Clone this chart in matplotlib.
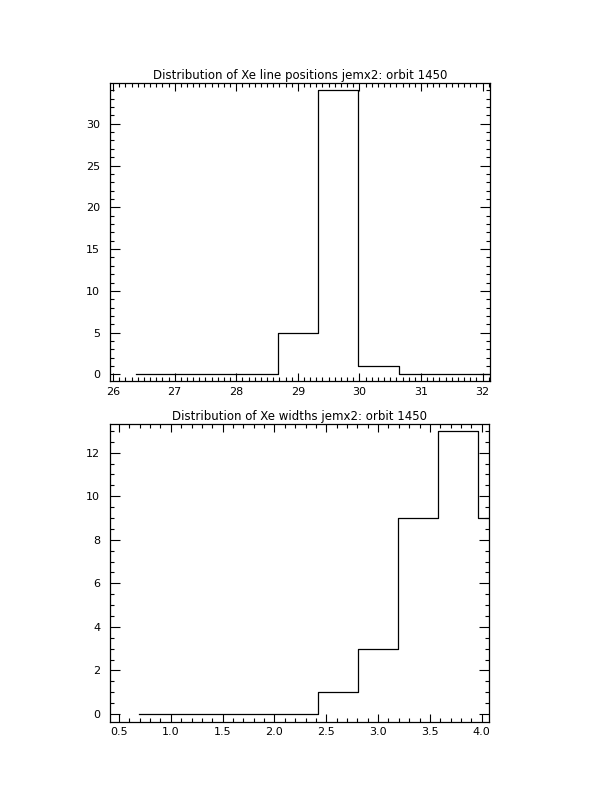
import matplotlib
matplotlib.use("Agg")
import matplotlib.pyplot as plt
from matplotlib.ticker import MultipleLocator, FormatStrFormatter

# Top histogram: Xe line positions
pos_centers = [26.38, 27.035, 27.69, 28.345, 29.0, 29.655, 30.31, 30.965, 31.62, 32.275]
pos_counts = [0, 0, 0, 0, 5, 34, 1, 0, 0, 0]
pos_title = "Distribution of Xe line positions jemx2: orbit 1450"

# Bottom histogram: Xe widths
wid_centers = [0.69, 1.075, 1.46, 1.845, 2.23, 2.615, 3.0, 3.385, 3.77, 4.155]
wid_counts = [0, 0, 0, 0, 0, 1, 3, 9, 13, 9]
wid_title = "Distribution of Xe widths jemx2: orbit 1450"

plt.rcParams['font.family'] = ['DejaVu Sans']
fig = plt.figure(figsize=(6.12, 7.92), dpi=100)

def style(ax, xmaj, xmin, ymaj, ymin, xfmt, yfmt):
    ax.xaxis.set_major_locator(MultipleLocator(xmaj))
    ax.xaxis.set_minor_locator(MultipleLocator(xmin))
    ax.yaxis.set_major_locator(MultipleLocator(ymaj))
    ax.yaxis.set_minor_locator(MultipleLocator(ymin))
    ax.xaxis.set_major_formatter(FormatStrFormatter(xfmt))
    ax.yaxis.set_major_formatter(FormatStrFormatter(yfmt))
    ax.tick_params(which='both', direction='in', top=True, right=True,
                   width=0.8, labelsize=8, colors='black')
    ax.tick_params(which='major', length=6, pad=4)
    ax.tick_params(axis='y', which='major', length=7, pad=7)
    ax.tick_params(which='minor', length=3)
    for s in ax.spines.values():
        s.set_linewidth(0.9)

ax1 = fig.add_axes([110/612, 1-381/792, 380/612, (381-83.3)/792])
ax1.step(pos_centers, pos_counts, where='mid', color='black', lw=0.9)
ax1.set_xlim(25.95, 32.12)
ax1.set_ylim(-0.78, 34.84)
style(ax1, 1, 0.1, 5, 1, '%d', '%d')
ax1.set_title(pos_title, fontsize=8.5, pad=3)

ax2 = fig.add_axes([110/612, 1-721.7/792, 379/612, (721.7-424.3)/792])
ax2.step(wid_centers, wid_counts, where='mid', color='black', lw=0.9)
ax2.set_xlim(0.413, 4.07)
ax2.set_ylim(-0.35, 13.3)
style(ax2, 0.5, 0.1, 2, 0.5, '%.1f', '%d')
ax2.set_title(wid_title, fontsize=8.5, pad=3)

fig.savefig("out.png", dpi=100)
